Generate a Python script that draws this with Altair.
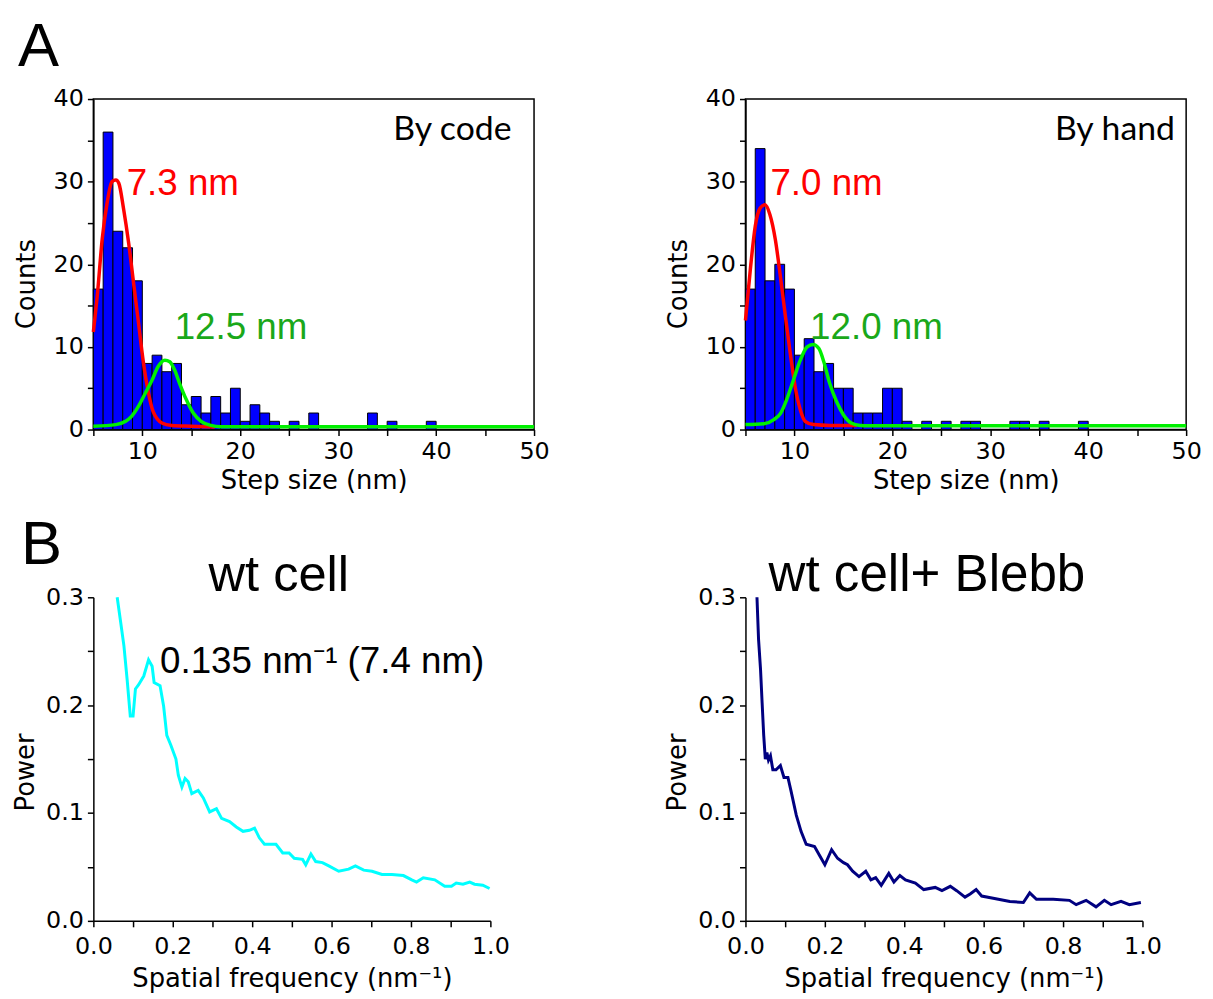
import altair as alt
import pandas as pd

# ---------------- Panel A: step-size histograms (1 nm bins) ----------------
bin_starts = list(range(5, 40))
code_counts = [17, 36, 24, 22, 18, 8, 9, 7, 8, 3, 4, 2, 4, 2, 5, 1, 3, 2, 1, 0,
               1, 0, 2, 0, 0, 0, 0, 0, 2, 0, 1, 0, 0, 0, 1]
hand_counts = [17, 34, 18, 20, 17, 9, 11, 7, 8, 5, 5, 2, 2, 2, 5, 5, 1, 0, 1, 0,
               1, 0, 1, 1, 0, 0, 0, 1, 1, 0, 1, 0, 0, 0, 1]

# fitted curves, points
code_red_x = [5.0, 5.4, 5.9, 6.4, 6.9, 7.3, 7.6, 8.1, 8.6, 9.1, 9.6, 10.1, 10.6, 11.1, 12.0, 13.0, 15.0, 17.4]
code_red_y = [11.8, 16.2, 23.0, 27.4, 30.0, 30.2, 29.8, 26.6, 22.6, 17.8, 13.0, 8.2, 4.6, 2.2, 0.8, 0.5, 0.4, 0.3]
code_green_x = [5.0, 7.3, 8.3, 8.9, 9.6, 10.3, 11.0, 11.6, 12.3, 12.8, 13.3, 13.8, 14.5, 15.2, 16.0, 17.0, 18.0, 50.0]
code_green_y = [0.4, 0.6, 1.0, 1.6, 2.8, 4.4, 6.0, 7.6, 8.4, 8.2, 7.2, 5.6, 3.6, 2.0, 1.0, 0.5, 0.35, 0.35]

hand_red_x = [5.0, 5.5, 6.0, 6.5, 7.0, 7.5, 8.05, 8.56, 9.07, 9.6, 10.1, 10.6, 11.1, 11.95, 13.6, 16.4]
hand_red_y = [13.2, 19.4, 24.6, 26.8, 27.2, 26.0, 23.0, 18.6, 13.8, 9.0, 5.0, 2.4, 1.0, 0.6, 0.5, 0.5]
hand_green_x = [5.0, 6.9, 7.9, 8.6, 9.2, 9.9, 10.6, 11.3, 11.9, 12.5, 13.0, 13.6, 14.3, 15.0, 15.8, 16.7, 17.7, 50.0]
hand_green_y = [0.6, 0.7, 1.2, 2.0, 3.6, 6.0, 8.4, 10.0, 10.3, 9.8, 8.2, 5.6, 3.4, 1.8, 0.8, 0.5, 0.45, 0.45]

# ---------------- Panel B: power spectra ----------------
wt_x = [0.06, 0.068, 0.077, 0.085, 0.093, 0.10, 0.106, 0.114, 0.127, 0.139, 0.148, 0.153, 0.168, 0.177,
        0.185, 0.195, 0.208, 0.214, 0.223, 0.231, 0.239, 0.248, 0.264, 0.277, 0.293, 0.31, 0.323, 0.343,
        0.36, 0.377, 0.393, 0.406, 0.418, 0.431, 0.46, 0.477, 0.493, 0.506, 0.527, 0.535, 0.548, 0.56,
        0.577, 0.593, 0.618, 0.643, 0.66, 0.681, 0.702, 0.727, 0.752, 0.781, 0.802, 0.814, 0.831, 0.86,
        0.885, 0.902, 0.914, 0.931, 0.948, 0.96, 0.981, 0.998]
wt_y = [0.300, 0.279, 0.255, 0.224, 0.190, 0.190, 0.215, 0.219, 0.227, 0.242, 0.236, 0.221, 0.218, 0.199,
        0.172, 0.163, 0.150, 0.135, 0.124, 0.132, 0.129, 0.118, 0.121, 0.114, 0.101, 0.104, 0.095, 0.092,
        0.087, 0.083, 0.084, 0.086, 0.077, 0.071, 0.071, 0.063, 0.063, 0.058, 0.057, 0.052, 0.062, 0.055,
        0.054, 0.051, 0.046, 0.048, 0.051, 0.047, 0.046, 0.043, 0.043, 0.042, 0.038, 0.036, 0.040, 0.038,
        0.032, 0.032, 0.035, 0.034, 0.036, 0.034, 0.033, 0.030]

bl_x = [0.029, 0.033, 0.038, 0.042, 0.046, 0.05, 0.054, 0.058, 0.063, 0.069, 0.077, 0.088, 0.097, 0.107,
        0.115, 0.128, 0.14, 0.153, 0.174, 0.186, 0.2, 0.217, 0.232, 0.247, 0.257, 0.27, 0.286, 0.303,
        0.316, 0.328, 0.342, 0.361, 0.374, 0.389, 0.403, 0.428, 0.449, 0.478, 0.495, 0.516, 0.532, 0.553,
        0.566, 0.581, 0.595, 0.624, 0.666, 0.7, 0.716, 0.733, 0.775, 0.816, 0.833, 0.858, 0.883, 0.904,
        0.921, 0.946, 0.967, 0.996]
bl_y = [0.300, 0.261, 0.233, 0.202, 0.172, 0.150, 0.156, 0.149, 0.153, 0.140, 0.140, 0.144, 0.133, 0.133,
        0.120, 0.098, 0.083, 0.071, 0.069, 0.061, 0.052, 0.066, 0.058, 0.054, 0.052, 0.046, 0.041, 0.046,
        0.038, 0.040, 0.033, 0.044, 0.036, 0.042, 0.038, 0.035, 0.029, 0.031, 0.028, 0.032, 0.028, 0.022,
        0.025, 0.029, 0.023, 0.021, 0.018, 0.017, 0.026, 0.020, 0.020, 0.019, 0.015, 0.019, 0.013, 0.019,
        0.015, 0.018, 0.015, 0.017]

AXIS_FONT = "DejaVu Sans"
TEXT_FONT = "Liberation Sans"


def axis(values, label_test, title, fmt=None, title_pad=4, label_pad=4, title_y=None):
    kw = dict(values=values, labelExpr=f"{label_test} ? datum.label : ''", title=title,
              labelFont=AXIS_FONT, labelFontSize=24, titleFont=AXIS_FONT, titleFontSize=26,
              titleFontWeight="normal", labelColor="black", titleColor="black",
              domainColor="black", tickColor="black", domainWidth=1.5, tickWidth=1.5,
              tickSize=6, grid=False, labelPadding=label_pad, labelFlush=False, labelOverlap=False,
              titlePadding=title_pad)
    if fmt:
        kw["format"] = fmt
    if title_y is not None:
        kw["titleY"] = title_y
    return alt.Axis(**kw)


def hist_panel(counts, rx, ry, gx, gy, red_lab, green_lab, corner, letter):
    df = pd.DataFrame({"start": bin_starts, "end": [s + 1 for s in bin_starts], "count": counts})
    df = df[df["count"] > 0].copy()
    df["base"] = 0
    xs = alt.Scale(domain=[5, 50], nice=False, zero=False)
    ys = alt.Scale(domain=[0, 40], nice=False)
    xa = axis(list(range(5, 51, 5)), "datum.value % 10 == 0", "Step size (nm)")
    ya = axis(list(range(0, 41, 5)), "datum.value % 10 == 0", "Counts", title_pad=14, title_y=186)
    bars = alt.Chart(df).mark_rect(color="#0000ff", stroke="black", strokeWidth=1).encode(
        x=alt.X("start:Q", scale=xs, axis=xa), x2="end:Q",
        y=alt.Y("count:Q", scale=ys, axis=ya), y2="base:Q")
    red = alt.Chart(pd.DataFrame({"start": rx, "count": ry})).mark_line(
        color="#ff0000", strokeWidth=3.5, interpolate="monotone").encode(
        x=alt.X("start:Q", scale=xs, axis=xa), y=alt.Y("count:Q", scale=ys, axis=ya))
    green = alt.Chart(pd.DataFrame({"start": gx, "count": gy})).mark_line(
        color="#00f000", strokeWidth=3.5, interpolate="monotone").encode(
        x=alt.X("start:Q", scale=xs, axis=xa), y=alt.Y("count:Q", scale=ys, axis=ya))
    labs = pd.DataFrame({"start": [red_lab[0], green_lab[0]], "count": [red_lab[1], green_lab[1]],
                         "t": [red_lab[2], green_lab[2]], "c": ["#ff0000", "#1aa81a"]})
    lab = alt.Chart(labs).mark_text(align="left", baseline="alphabetic", font=TEXT_FONT,
                                    fontSize=37).encode(
        x=alt.X("start:Q", scale=xs, axis=xa), y=alt.Y("count:Q", scale=ys, axis=ya),
        text="t:N", color=alt.Color("c:N", scale=None))
    cdf = pd.DataFrame({"start": [corner[0]], "count": [corner[1]], "t": [corner[2]]})
    corner_t = alt.Chart(cdf).mark_text(align="right", baseline="alphabetic", font="Lato",
                                        fontSize=34, color="black").encode(
        x=alt.X("start:Q", scale=xs, axis=xa), y=alt.Y("count:Q", scale=ys, axis=ya), text="t:N")
    layers = [bars, red, green, lab, corner_t]
    if letter:
        layers.append(alt.Chart(pd.DataFrame({"t": [letter]})).mark_text(
            align="left", baseline="alphabetic", font=TEXT_FONT, fontSize=62, color="black").encode(
            x=alt.value(-76), y=alt.value(-33), text="t:N"))
    return alt.layer(*layers).properties(
        width=444, height=333, view=alt.ViewBackground(stroke="black", strokeWidth=1.5))


def spec_panel(xv, yv, color, title, title_x, title_size, ann, letter):
    xs = alt.Scale(domain=[0, 1], nice=False)
    ys = alt.Scale(domain=[0, 0.3], nice=False)
    xa = axis([round(i * 0.1, 1) for i in range(11)], "round(datum.value*10) % 2 == 0",
              "Spatial frequency (nm⁻¹)", ".1f", title_pad=7, label_pad=8)
    ya = axis([round(i * 0.05, 2) for i in range(7)], "abs(datum.value*10 - round(datum.value*10)) < 0.001",
              "Power", ".1f", title_pad=7, title_y=176)
    line = alt.Chart(pd.DataFrame({"f": xv, "p": yv})).mark_line(
        color=color, strokeWidth=3).encode(
        x=alt.X("f:Q", scale=xs, axis=xa), y=alt.Y("p:Q", scale=ys, axis=ya))
    tdf = pd.DataFrame({"f": [title_x], "p": [0.306], "t": [title]})
    ttl = alt.Chart(tdf).mark_text(align="center", baseline="alphabetic", font=TEXT_FONT,
                                   fontSize=title_size, color="black").encode(
        x=alt.X("f:Q", scale=xs, axis=xa), y=alt.Y("p:Q", scale=ys, axis=ya), text="t:N")
    layers = [line, ttl]
    if ann:
        adf = pd.DataFrame({"f": [ann[0]], "p": [ann[1]], "t": [ann[2]]})
        layers.append(alt.Chart(adf).mark_text(align="left", baseline="alphabetic", font=TEXT_FONT,
                                               fontSize=37, color="black").encode(
            x=alt.X("f:Q", scale=xs, axis=xa), y=alt.Y("p:Q", scale=ys, axis=ya), text="t:N"))
    if letter:
        layers.append(alt.Chart(pd.DataFrame({"t": [letter]})).mark_text(
            align="left", baseline="alphabetic", font=TEXT_FONT, fontSize=62, color="black").encode(
            x=alt.value(-73), y=alt.value(-34), text="t:N"))
    return alt.layer(*layers).properties(
        width=400, height=326, view=alt.ViewBackground(stroke="transparent"))


a1 = hist_panel(code_counts, code_red_x, code_red_y, code_green_x, code_green_y,
                (8.4, 28.4, "7.3 nm"), (13.3, 10.9, "12.5 nm"), (47.7, 35.1, "By code"), "A")
a2 = hist_panel(hand_counts, hand_red_x, hand_red_y, hand_green_x, hand_green_y,
                (7.55, 28.4, "7.0 nm"), (11.6, 10.9, "12.0 nm"), (48.85, 35.1, "By hand"), None)
b1 = spec_panel(wt_x, wt_y, "#00ffff", "wt cell", 0.467, 51,
                (0.168, 0.230, "0.135 nm⁻¹ (7.4 nm)"), "B")
b2 = spec_panel(bl_x, bl_y, "#000080", "wt cell+ Blebb", 0.457, 51.5, None, None)

chart = alt.concat(
    a1, a2, b1, b2, columns=2,
    spacing=alt.RowColnumber(row=169, column=213), bounds="flush",
).properties(padding={"left": 4, "top": 4, "right": 2, "bottom": 2}).configure(font=TEXT_FONT)

chart.save("out.html", embed_options={"renderer": "svg", "actions": False})
